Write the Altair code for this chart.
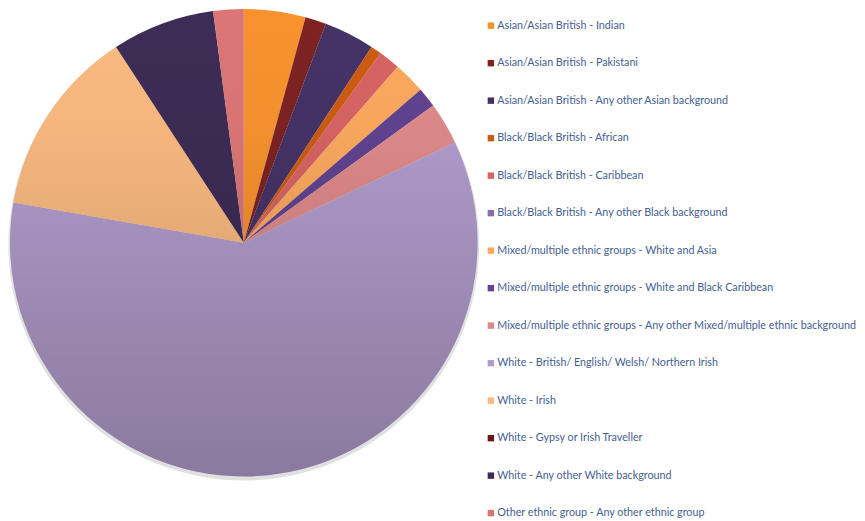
import altair as alt
import pandas as pd
import math

categories = [
    "Asian/Asian British - Indian",
    "Asian/Asian British - Pakistani",
    "Asian/Asian British - Any other Asian background",
    "Black/Black British - African",
    "Black/Black British - Caribbean",
    "Black/Black British - Any other Black background",
    "Mixed/multiple ethnic groups - White and Asia",
    "Mixed/multiple ethnic groups - White and Black Caribbean",
    "Mixed/multiple ethnic groups - Any other Mixed/multiple ethnic background",
    "White - British/ English/ Welsh/ Northern Irish",
    "White - Irish",
    "White - Gypsy or Irish Traveller",
    "White - Any other White background",
    "Other ethnic group - Any other ethnic group",
]
values = [4.26, 1.45, 3.49, 0.74, 1.50, 0.0, 2.20, 1.39, 2.92, 59.8, 13.06, 0.0, 7.10, 2.10]
colors = [
    "#F8922F", "#7E2222", "#453366", "#CC5C10", "#D86464", "#8C6BB1",
    "#FCA95E", "#614390", "#DF8A8A", "#B19CCC", "#FABA80", "#6B1616",
    "#3D2C55", "#DC7676",
]

df = pd.DataFrame({"category": categories, "value": values, "idx": list(range(len(categories)))})

cx, cy, r = 238, 234.5, 236
full = 2 * math.pi

shadow = alt.Chart(pd.DataFrame({"v": [1]})).mark_arc(
    radius=r + 1.5, theta=0, theta2=full, fill="#000000", opacity=0.12
).encode(x=alt.value(cx), y=alt.value(cy + 2.5))

pie = alt.Chart(df).mark_arc(radius=r).encode(
    theta=alt.Theta("value:Q", stack=True),
    order=alt.Order("idx:Q"),
    color=alt.Color(
        "category:N",
        scale=alt.Scale(domain=categories, range=colors),
        sort=categories,
        legend=alt.Legend(
            title=None,
            orient="none",
            legendX=482,
            legendY=10,
            symbolType="square",
            symbolSize=42,
            symbolStrokeWidth=0,
            labelFontSize=10.85,
            labelFont="Lato",
            labelColor="#44608F",
            labelLimit=420,
            rowPadding=25.85,
            labelOffset=1,
            padding=0,
        ),
    ),
    x=alt.value(cx),
    y=alt.value(cy),
)

overlay = alt.Chart(pd.DataFrame({"v": [1]})).mark_arc(
    radius=r,
    theta=0,
    theta2=full,
    fill={
        "gradient": "linear",
        "x1": 0, "y1": 0, "x2": 0, "y2": 1,
        "stops": [
            {"offset": 0, "color": "rgba(0,0,0,0)"},
            {"offset": 0.25, "color": "rgba(0,0,0,0.02)"},
            {"offset": 1, "color": "rgba(0,0,0,0.22)"},
        ],
    },
).encode(x=alt.value(cx), y=alt.value(cy))

chart = alt.layer(shadow, pie, overlay).properties(
    width=857, height=513, autosize=alt.AutoSizeParams(type="none"), padding=0
).configure_view(stroke=None)

chart.save("out.html", embed_options={"renderer": "svg", "actions": False})
